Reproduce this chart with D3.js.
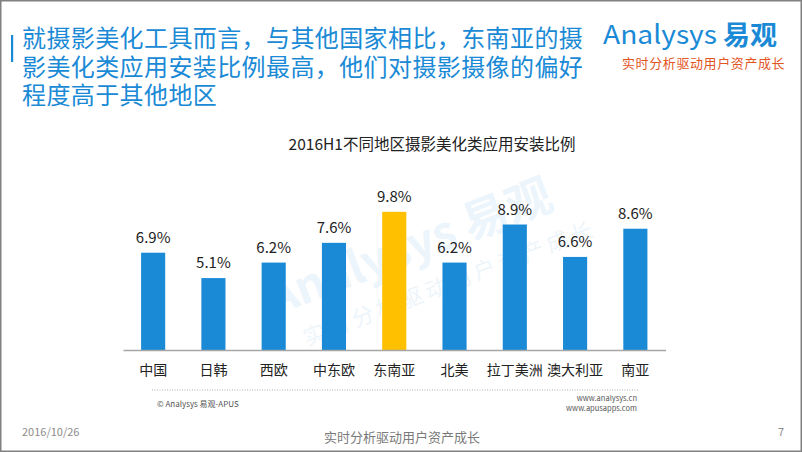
<!DOCTYPE html>
<html>
<head>
<meta charset="utf-8">
<script src="https://cdn.jsdelivr.net/npm/d3@7/dist/d3.min.js"></script>
<style>
  html, body { margin: 0; padding: 0; background: #fff; }
  svg { display: block; }
  text { font-family: "Microsoft YaHei", "Noto Sans CJK SC", "Noto Sans", sans-serif; }
</style>
</head>
<body>
<svg id="chart" width="802" height="452"></svg>
<script>
// ---- data ----
const categories = ["中国", "日韩", "西欧", "中东欧", "东南亚", "北美", "拉丁美洲", "澳大利亚", "南亚"];
const values = [6.9, 5.1, 6.2, 7.6, 9.8, 6.2, 8.9, 6.6, 8.6];
const highlight = "东南亚";
const headline = [
  "就摄影美化工具而言，与其他国家相比，东南亚的摄",
  "影美化类应用安装比例最高，他们对摄影摄像的偏好",
  "程度高于其他地区"
];
const chartTitle = "2016H1不同地区摄影美化类应用安装比例";
const tagline = "实时分析驱动用户资产成长";

const BLUE = "#1a8ad6";
const YELLOW = "#ffc000";

const svg = d3.select("#chart");

// frame
svg.append("rect").attr("x", 0.75).attr("y", 0.75).attr("width", 800.5).attr("height", 450.5)
  .attr("fill", "#fff").attr("stroke", "#808080").attr("stroke-width", 1.5);

// watermark
const wm = svg.append("g").attr("transform", "translate(415,262) rotate(-21)").attr("opacity", 0.08);
wm.append("text").attr("text-anchor", "middle").attr("font-size", 46).attr("font-weight", "bold")
  .attr("fill", BLUE).attr("font-family", "'Open Sans', sans-serif").text("Analysys 易观");
wm.append("text").attr("text-anchor", "middle").attr("y", 40).attr("x", 25).attr("font-size", 22)
  .attr("fill", BLUE).attr("letter-spacing", 4).text(tagline);

// headline
svg.append("rect").attr("x", 11).attr("y", 35).attr("width", 2.2).attr("height", 27).attr("fill", BLUE);
headline.forEach((line, i) => {
  svg.append("text").attr("x", 22).attr("y", 47 + i * 28.5)
    .attr("font-size", 24).attr("fill", BLUE)
    .attr("font-family", "'Noto Sans CJK SC', sans-serif").attr("letter-spacing", 0.4)
    .text(line);
});

// logo
svg.append("text").attr("x", 603).attr("y", 44).attr("font-size", 26).attr("fill", BLUE)
  .attr("font-family", "'Open Sans', sans-serif")
  .attr("textLength", 114).attr("lengthAdjust", "spacingAndGlyphs").text("Analysys");
svg.append("text").attr("x", 723).attr("y", 45).attr("font-size", 27).attr("font-weight", "bold")
  .attr("fill", BLUE).attr("font-family", "'Noto Sans CJK SC', sans-serif").text("易观");
svg.append("text").attr("x", 622).attr("y", 68).attr("font-size", 13).attr("fill", "#e2561f")
  .attr("letter-spacing", 0.6).attr("font-family", "'Noto Sans CJK SC', sans-serif").text(tagline);

// chart title
svg.append("text").attr("x", 432).attr("y", 150).attr("text-anchor", "middle")
  .attr("font-size", 15.5).attr("fill", "#222").text(chartTitle);

// scales
const x = d3.scaleBand().domain(categories).range([123, 665.5]).paddingInner(0.6).paddingOuter(0.3);
const y = d3.scaleLinear().domain([0, 10]).range([350, 209]);

// bars
svg.append("g").selectAll("rect").data(categories).join("rect")
  .attr("x", d => x(d))
  .attr("y", (d, i) => y(values[i]))
  .attr("width", x.bandwidth())
  .attr("height", (d, i) => y(0) - y(values[i]))
  .attr("fill", d => d === highlight ? YELLOW : BLUE);

// value labels
svg.append("g").selectAll("text").data(categories).join("text")
  .attr("x", d => x(d) + x.bandwidth() / 2)
  .attr("y", (d, i) => y(values[i]) - 10)
  .attr("text-anchor", "middle")
  .attr("font-size", 15).attr("fill", "#222")
  .text((d, i) => values[i].toFixed(1) + "%");

// axis
const axis = svg.append("g").attr("transform", `translate(0,${y(0)})`)
  .call(d3.axisBottom(x).tickSize(0).tickPadding(15).tickSizeOuter(0));
axis.select(".domain").attr("stroke", "#a6a6a6").attr("stroke-width", 1.5);
axis.selectAll("text").attr("font-size", 14).attr("fill", "#222")
  .attr("font-family", "'Microsoft YaHei', 'Noto Sans CJK SC', sans-serif");

// footer source
svg.append("line").attr("x1", 152).attr("x2", 638).attr("y1", 390).attr("y2", 390)
  .attr("stroke", "#9a9a9a").attr("stroke-width", 0.8).attr("stroke-dasharray", "1,1.5");
svg.append("text").attr("x", 157).attr("y", 407).attr("font-size", 8).attr("fill", "#555")
  .text("© Analysys 易观-APUS");
svg.append("text").attr("x", 637).attr("y", 401).attr("font-size", 7.5).attr("fill", "#555")
  .attr("text-anchor", "end").text("www.analysys.cn");
svg.append("text").attr("x", 637).attr("y", 411).attr("font-size", 7.5).attr("fill", "#555")
  .attr("text-anchor", "end").text("www.apusapps.com");

// page footer
svg.append("text").attr("x", 22).attr("y", 436).attr("font-size", 11).attr("fill", "#8c8c8c").text("2016/10/26");
svg.append("text").attr("x", 402).attr("y", 442).attr("text-anchor", "middle").attr("font-size", 13)
  .attr("fill", "#7a7a7a").text(tagline);
svg.append("text").attr("x", 778).attr("y", 436).attr("font-size", 11).attr("fill", "#8c8c8c").text("7");
</script>
</body>
</html>
